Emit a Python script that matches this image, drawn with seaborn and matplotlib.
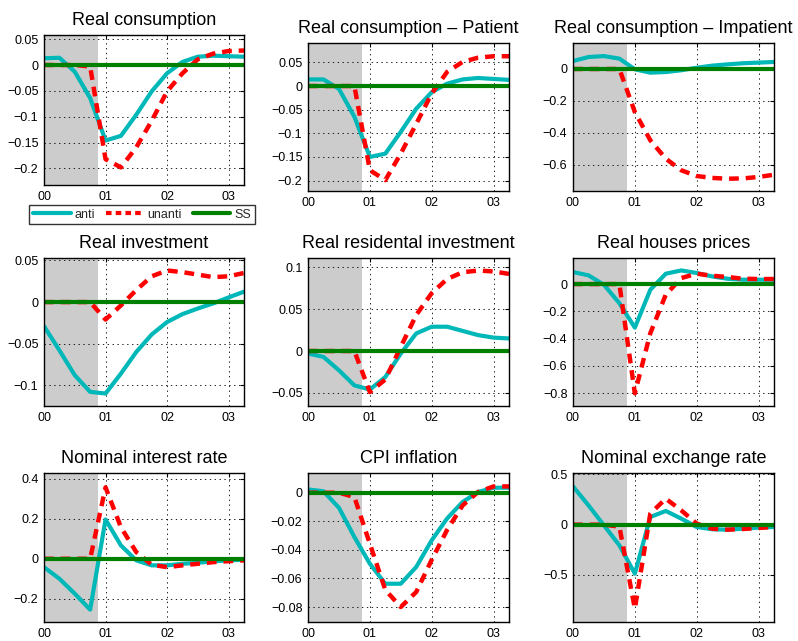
import numpy as np
import pandas as pd
import matplotlib
matplotlib.use("Agg")
import matplotlib.pyplot as plt
from matplotlib.lines import Line2D
from matplotlib.ticker import FuncFormatter
import seaborn as sns

# ---------------- data (quarters 0..13) ----------------
quarters = list(range(14))
xtick_pos = [0, 4, 8, 12]
xtick_labels = ["00", "01", "02", "03"]
shade_end = 3.5
series_names = ["anti", "unanti", "SS"]

titles = ["Real consumption", "Real consumption \u2013 Patient", "Real consumption \u2013 Impatient",
          "Real investment", "Real residental investment", "Real houses prices",
          "Nominal interest rate", "CPI inflation", "Nominal exchange rate"]

cons_anti = [0.013, 0.014, -0.013, -0.064, -0.146, -0.137, -0.096, -0.051, -0.016, 0.006, 0.016, 0.018, 0.017, 0.016]
cons_unanti = [0.0, 0.0, 0.0, -0.003, -0.182, -0.198, -0.159, -0.108, -0.051, -0.016, 0.011, 0.022, 0.027, 0.028]

pat_anti = [0.014, 0.014, -0.006, -0.065, -0.150, -0.143, -0.097, -0.048, -0.013, 0.005, 0.014, 0.017, 0.015, 0.013]
pat_unanti = [0.0, 0.0, 0.0, 0.0, -0.178, -0.199, -0.143, -0.080, -0.016, 0.030, 0.051, 0.060, 0.063, 0.063]

imp_anti = [0.050, 0.075, 0.081, 0.065, -0.002, -0.023, -0.019, -0.008, 0.008, 0.021, 0.029, 0.036, 0.040, 0.044]
imp_unanti = [0.0, 0.0, 0.0, 0.0, -0.270, -0.447, -0.562, -0.635, -0.671, -0.683, -0.688, -0.686, -0.677, -0.663]

inv_anti = [-0.029, -0.058, -0.088, -0.108, -0.110, -0.086, -0.060, -0.039, -0.024, -0.0145, -0.0077, -0.0016, 0.0056, 0.0125]
inv_unanti = [0.0, 0.0, 0.0, 0.0, -0.021, -0.004, 0.0145, 0.031, 0.038, 0.036, 0.033, 0.030, 0.031, 0.035]

res_anti = [-0.003, -0.007, -0.023, -0.041, -0.046, -0.031, -0.003, 0.021, 0.029, 0.029, 0.024, 0.019, 0.016, 0.015]
res_unanti = [0.0, 0.0, 0.0, 0.0, -0.049, -0.034, 0.005, 0.043, 0.069, 0.086, 0.094, 0.096, 0.095, 0.092]

hp_anti = [0.088, 0.064, -0.005, -0.140, -0.319, -0.042, 0.076, 0.100, 0.081, 0.056, 0.039, 0.032, 0.032, 0.032]
hp_unanti = [0.0, 0.0, 0.0, 0.0, -0.800, -0.360, -0.078, 0.044, 0.076, 0.061, 0.052, 0.039, 0.037, 0.037]

ir_anti = [-0.042, -0.100, -0.175, -0.255, 0.197, 0.067, -0.008, -0.033, -0.033, -0.025, -0.020, -0.013, -0.008, -0.005]
ir_unanti = [0.0, 0.0, 0.0, 0.0, 0.358, 0.158, 0.033, -0.030, -0.042, -0.033, -0.025, -0.017, -0.012, -0.008]

cpi_anti = [0.0023, 0.001, -0.0105, -0.031, -0.0497, -0.0637, -0.0637, -0.052, -0.0333, -0.018, -0.0065, 0.0005, 0.0035, 0.0035]
cpi_unanti = [0.0, 0.0, 0.0, -0.003, -0.0357, -0.068, -0.080, -0.0695, -0.047, -0.026, -0.0089, 0.0005, 0.0044, 0.0044]

fx_anti = [0.380, 0.192, -0.007, -0.205, -0.487, 0.076, 0.136, 0.060, -0.023, -0.046, -0.050, -0.040, -0.030, -0.023]
fx_unanti = [0.0, 0.0, 0.0, -0.020, -0.834, 0.110, 0.258, 0.142, 0.010, -0.040, -0.050, -0.043, -0.033, -0.023]

ss_values = [0.0] * 14

anti_list = [cons_anti, pat_anti, imp_anti, inv_anti, res_anti, hp_anti, ir_anti, cpi_anti, fx_anti]
unanti_list = [cons_unanti, pat_unanti, imp_unanti, inv_unanti, res_unanti, hp_unanti, ir_unanti, cpi_unanti, fx_unanti]

yticks_list = [[-0.2, -0.15, -0.1, -0.05, 0, 0.05],
               [-0.2, -0.15, -0.1, -0.05, 0, 0.05],
               [-0.6, -0.4, -0.2, 0],
               [-0.1, -0.05, 0, 0.05],
               [-0.05, 0, 0.05, 0.1],
               [-0.8, -0.6, -0.4, -0.2, 0],
               [-0.2, 0, 0.2, 0.4],
               [-0.08, -0.06, -0.04, -0.02, 0],
               [-0.5, 0, 0.5]]
ylims = [(-0.232, 0.058), (-0.222, 0.091), (-0.765, 0.163),
         (-0.125, 0.053), (-0.0656, 0.111), (-0.893, 0.191),
         (-0.317, 0.43), (-0.0905, 0.0138), (-0.967, 0.513)]

# ---------------- styling ----------------
sns.set_theme(style="white")
plt.rcParams["font.family"] = ["Liberation Sans", "DejaVu Sans"]
plt.rcParams["lines.scale_dashes"] = False
plt.rcParams["axes.unicode_minus"] = True

CYAN = "#00B8B8"
RED = "#FF0000"
GREEN = "#008000"
GRAY = "#CCCCCC"

W, H = 798, 641
fig = plt.figure(figsize=(W / 100, H / 100), dpi=100)

# axes boxes in pixels: (left, top, right, bottom)
col_lr = [(44, 244), (308, 509), (573, 774)]
row_tb = [(43, 191), (258, 406), (473, 622)]

def fmt(v, pos):
    s = f"{v:g}"
    return s.replace("-", "\u2212")

for i in range(9):
    r, c = divmod(i, 3)
    l, rr = col_lr[c]
    t, b = row_tb[r]
    if i == 0:
        t, b = 35, 185
    ax = fig.add_axes([l / W, 1 - b / H, (rr - l) / W, (b - t) / H])
    ax.axvspan(0, shade_end, color=GRAY, lw=0, zorder=0)
    df = pd.DataFrame({"quarter": quarters, "anti": anti_list[i],
                       "unanti": unanti_list[i], "SS": ss_values})
    sns.lineplot(data=df, x="quarter", y="anti", ax=ax, color=CYAN, lw=3.0, zorder=3)
    sns.lineplot(data=df, x="quarter", y="unanti", ax=ax, color=RED, lw=0.7,
                 ls=(8, (3, 9)), zorder=4)
    sns.lineplot(data=df, x="quarter", y="unanti", ax=ax, color=RED, lw=3.2,
                 ls=(0, (7, 5)), zorder=4)
    sns.lineplot(data=df, x="quarter", y="SS", ax=ax, color=GREEN, lw=3.0, zorder=5)
    ax.set_xlim(0, 13)
    ax.set_ylim(*ylims[i])
    ax.set_xticks(xtick_pos)
    ax.set_xticklabels(xtick_labels)
    ax.set_yticks(yticks_list[i])
    ax.yaxis.set_major_formatter(FuncFormatter(fmt))
    ax.set_xlabel("")
    ax.set_ylabel("")
    ax.grid(True, color="black", ls=(0, (1, 2.5)), lw=0.6)
    ax.set_axisbelow(False)
    for gl in ax.get_xgridlines() + ax.get_ygridlines():
        gl.set_zorder(1)
    ax.tick_params(direction="in", length=3, width=0.8, top=True, right=True,
                   labelsize=9, colors="black", pad=4)
    for sp in ax.spines.values():
        sp.set_color("black")
        sp.set_linewidth(1.0)
        sp.set_zorder(6)
    ax.set_title(titles[i], fontsize=13, pad=7, color="black")

handles = [Line2D([], [], color=CYAN, lw=3.0),
           Line2D([], [], color=RED, lw=3.0, ls=(0, (4, 3))),
           Line2D([], [], color=GREEN, lw=3.0)]
leg = fig.legend(handles, series_names, loc="center", bbox_to_anchor=(142 / W, 1 - 214.5 / H),
                 ncol=3, fontsize=9, frameon=True, fancybox=False, edgecolor="black",
                 handlelength=3.0, handletextpad=0.3, columnspacing=0.9,
                 borderpad=0.3, borderaxespad=0)
leg.get_frame().set_linewidth(1.0)

fig.savefig("out.png", dpi=100)
